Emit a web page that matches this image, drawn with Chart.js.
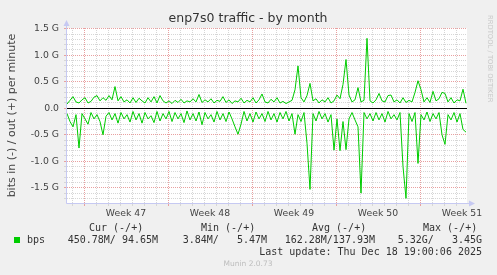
<!DOCTYPE html>
<html lang="en">
<head>
    <meta charset="UTF-8">
    <title>enp7s0 traffic - by month</title>
    <script src="https://cdn.jsdelivr.net/npm/chart.js"></script>
    <style>
        body { margin: 0; background: #f0f0f0; }
        canvas { display: block; }
    </style>
</head>
<body>

<canvas id="chart" width="497" height="275"></canvas>

<script>
    // one sample every 6 hours, values in Gbit per minute
    var stepHours = 6

    var outG = [
        0.08, 0.15, 0.22, 0.12, 0.10, 0.16, 0.20, 0.10, 0.13, 0.21, 0.24, 0.14, 0.20, 0.15, 0.24, 0.16, 0.41, 0.14, 0.22, 0.12,
        0.16, 0.10, 0.20, 0.11, 0.19, 0.14, 0.10, 0.20, 0.12, 0.22, 0.10, 0.24, 0.14, 0.10,
        0.14, 0.09, 0.15, 0.11, 0.17, 0.10, 0.14, 0.12, 0.18, 0.12, 0.26, 0.11, 0.16, 0.12, 0.18, 0.10, 0.15, 0.13, 0.22, 0.11,
        0.16, 0.09, 0.14, 0.12, 0.19, 0.10, 0.15, 0.12, 0.20, 0.10, 0.16, 0.27, 0.12, 0.10, 0.17, 0.12, 0.20, 0.10, 0.13,
        0.09, 0.12, 0.15, 0.35, 0.80, 0.20, 0.12, 0.24, 0.47, 0.14, 0.18, 0.10, 0.16, 0.12, 0.20, 0.10, 0.14, 0.25, 0.18, 0.45,
        0.92, 0.25, 0.12, 0.16, 0.39, 0.12, 0.15, 1.32, 0.14,
        0.10, 0.16, 0.28, 0.14, 0.12, 0.24, 0.25, 0.12, 0.16, 0.10, 0.20, 0.11, 0.15, 0.12, 0.30, 0.52, 0.35, 0.12, 0.20, 0.11,
        0.32, 0.14, 0.18, 0.30, 0.28, 0.12, 0.20, 0.10, 0.16, 0.14, 0.36, 0.095
    ]

    var inG = [
        -0.10, -0.25, -0.35, -0.12, -0.75, -0.10, -0.20, -0.30, -0.08, -0.20, -0.12, -0.25, -0.50, -0.15, -0.08, -0.22, -0.10,
        -0.28, -0.08, -0.20, -0.12, -0.26, -0.06, -0.22, -0.10, -0.28, -0.08, -0.20, -0.14, -0.27, -0.06, -0.24, -0.10, -0.20,
        -0.06, -0.25, -0.08, -0.20, -0.10, -0.27, -0.05, -0.22, -0.10, -0.24, -0.07, -0.31, -0.08, -0.20, -0.12, -0.26, -0.06,
        -0.22, -0.10, -0.25, -0.07, -0.20, -0.35, -0.49, -0.30, -0.06, -0.24, -0.10, -0.26, -0.07, -0.20, -0.10, -0.25, -0.06,
        -0.22, -0.10, -0.26, -0.08, -0.20,
        -0.06, -0.24, -0.10, -0.49, -0.12, -0.25, -0.08, -0.66, -1.53, -0.10, -0.24, -0.06, -0.20, -0.10, -0.26, -0.12, -0.79,
        -0.20, -0.80, -0.25, -0.78, -0.20, -0.08, -0.22, -0.35, -1.60, -0.08, -0.20, -0.10,
        -0.24, -0.08, -0.22, -0.10, -0.26, -0.06, -0.20, -0.12, -0.22, -0.08, -1.10, -1.70, -0.10, -0.25, -0.08, -1.04, -0.12,
        -0.22, -0.07, -0.25, -0.10, -0.20, -0.08, -0.50, -0.68, -0.12, -0.22, -0.08, -0.26, -0.10, -0.40, -0.45
    ]

    // x axis in hours from the left edge of the graph
    var xMax = 800
    var weekLines = [34, 202, 370, 538, 706]
    var weekLabelHours = [118, 286, 454, 622, 790]
    var weekLabels = ['Week 47', 'Week 48', 'Week 49', 'Week 50', 'Week 51']

    var yMin = -1.787
    var yMax = 1.515
    var yTickValues = [-1.5, -1.0, -0.5, 0, 0.5, 1.0, 1.5]
    var yTickLabels = ['-1.5 G', '-1.0 G', '-0.5 G', '0.0', '0.5 G', '1.0 G', '1.5 G']

    var legendHeaders = ['Cur (-/+)', 'Min (-/+)', 'Avg (-/+)', 'Max (-/+)']
    var legendValues = ['450.78M/ 94.65M', '3.84M/   5.47M', '162.28M/137.93M', '5.32G/   3.45G']

    var green = '#00cc00'
    var minorGrid = '#d6d6d6'
    var majorGrid = '#e8a0a0'
    var axisColor = '#c6c9f2'

    function toPoints(arr) {
        return arr.map((v, i) => ({x: i * stepHours, y: v}))
    }

    var muninPlugin = {
        id: 'munin',
        beforeDraw(chart) {
            var ctx = chart.ctx, a = chart.chartArea
            ctx.save()
            ctx.fillStyle = '#f0f0f0'
            ctx.fillRect(0, 0, chart.width, chart.height)
            ctx.fillStyle = '#ffffff'
            ctx.fillRect(a.left, a.top, a.right - a.left, a.bottom - a.top)
            ctx.restore()
        },
        beforeDatasetsDraw(chart) {
            var ctx = chart.ctx, a = chart.chartArea
            var y0 = Math.round(chart.scales.y.getPixelForValue(0)) + 0.5
            ctx.save()
            ctx.strokeStyle = '#000000'
            ctx.lineWidth = 1
            ctx.beginPath()
            ctx.moveTo(a.left, y0)
            ctx.lineTo(a.right, y0)
            ctx.stroke()
            ctx.restore()
        },
        afterDraw(chart) {
            var ctx = chart.ctx, a = chart.chartArea
            ctx.save()
            // axes with arrow heads
            ctx.strokeStyle = axisColor
            ctx.fillStyle = axisColor
            ctx.lineWidth = 1
            ctx.beginPath()
            ctx.moveTo(a.left - 0.5, a.bottom + 0.5)
            ctx.lineTo(a.left - 0.5, a.top - 4)
            ctx.moveTo(a.left - 0.5, a.bottom + 0.5)
            ctx.lineTo(a.right + 4, a.bottom + 0.5)
            ctx.stroke()
            ctx.beginPath()
            ctx.moveTo(a.left - 3.5, a.top - 2)
            ctx.lineTo(a.left - 0.5, a.top - 8)
            ctx.lineTo(a.left + 2.5, a.top - 2)
            ctx.fill()
            ctx.beginPath()
            ctx.moveTo(a.right + 2, a.bottom - 2.5)
            ctx.lineTo(a.right + 8, a.bottom + 0.5)
            ctx.lineTo(a.right + 2, a.bottom + 3.5)
            ctx.fill()

            // title
            ctx.fillStyle = '#333333'
            ctx.font = '12.5px "DejaVu Sans"'
            ctx.textAlign = 'center'
            ctx.textBaseline = 'middle'
            ctx.fillText('enp7s0 traffic - by month', 248, 19)

            // vertical axis title
            ctx.save()
            ctx.translate(12, (a.top + a.bottom) / 2)
            ctx.rotate(-Math.PI / 2)
            ctx.font = '11px "DejaVu Sans"'
            ctx.fillStyle = '#444444'
            ctx.fillText('bits in (-) / out (+) per minute', 0, 0)
            ctx.restore()

            // rrdtool credit
            ctx.save()
            ctx.translate(490, 15)
            ctx.rotate(Math.PI / 2)
            ctx.font = '6.8px "DejaVu Sans"'
            ctx.fillStyle = '#c8c8c8'
            ctx.textAlign = 'left'
            ctx.fillText('RRDTOOL / TOBI OETIKER', 0, 0)
            ctx.restore()

            // legend block
            ctx.font = '10px "DejaVu Sans Mono"'
            ctx.fillStyle = '#333333'
            ctx.textAlign = 'left'
            var headerX = [89, 201, 312, 423]
            var valueRight = [158, 267, 375, 482]
            legendHeaders.forEach((h, i) => ctx.fillText(h, headerX[i], 228))
            ctx.fillStyle = green
            ctx.fillRect(14, 237, 6, 6)
            ctx.fillStyle = '#333333'
            ctx.fillText('bps', 27, 240.5)
            ctx.textAlign = 'right'
            legendValues.forEach((v, i) => ctx.fillText(v, valueRight[i], 240.5))
            ctx.fillText('Last update: Thu Dec 18 19:00:06 2025', 482, 252.5)

            ctx.textAlign = 'center'
            ctx.font = '7.5px "DejaVu Sans"'
            ctx.fillStyle = '#bdbdbd'
            ctx.fillText('Munin 2.0.73', 248, 264)
            ctx.restore()
        }
    }

    var canvas = document.getElementById("chart")
    var traffic = new Chart(canvas, {
        type: 'line',
        data: {
            datasets: [{
                label: 'out',
                data: toPoints(outG),
                borderColor: green,
                borderWidth: 1,
                pointRadius: 0,
                tension: 0,
                fill: false
            }, {
                label: 'in',
                data: toPoints(inG),
                borderColor: green,
                borderWidth: 1,
                pointRadius: 0,
                tension: 0,
                fill: false
            }]
        },
        options: {
            responsive: false,
            animation: false,
            layout: {padding: {left: 0, top: 28, right: 30, bottom: 52}},
            plugins: {legend: {display: false}, tooltip: {enabled: false}},
            scales: {
                x: {
                    type: 'linear',
                    min: 0,
                    max: xMax,
                    afterBuildTicks: function (scale) {
                        var t = []
                        for (var h = weekLines[0] - 24; h <= xMax; h += 24) t.push({value: h})
                        scale.ticks = t
                    },
                    afterFit: function (scale) { scale.height = 0 },
                    ticks: {display: false},
                    grid: {
                        color: c => weekLines.includes(c.tick.value) ? majorGrid : minorGrid,
                        drawTicks: true,
                        tickLength: 3
                    },
                    border: {display: false, dash: [1, 1]}
                },
                x2: {
                    type: 'linear',
                    position: 'bottom',
                    min: 0,
                    max: xMax,
                    afterBuildTicks: function (scale) {
                        scale.ticks = weekLabelHours.map(v => ({value: v}))
                    },
                    afterFit: function (scale) { scale.height = 20 },
                    grid: {display: false, drawTicks: false},
                    border: {display: false},
                    ticks: {
                        autoSkip: false,
                        maxRotation: 0,
                        padding: 5,
                        color: '#444444',
                        font: {family: 'DejaVu Sans', size: 9.3},
                        callback: function (v) { return weekLabels[weekLabelHours.indexOf(v)] }
                    }
                },
                y: {
                    type: 'linear',
                    min: yMin,
                    max: yMax,
                    afterBuildTicks: function (scale) {
                        var t = []
                        for (var k = -17; k <= 15; k++) t.push({value: k / 10})
                        scale.ticks = t
                    },
                    afterFit: function (scale) { scale.width = 67 },
                    grid: {
                        color: c => (Math.abs(c.tick.value * 2 - Math.round(c.tick.value * 2)) < 1e-6) ? majorGrid : minorGrid,
                        drawTicks: true,
                        tickLength: 3
                    },
                    border: {display: false, dash: [1, 1]},
                    ticks: {
                        autoSkip: false,
                        padding: 5,
                        color: '#444444',
                        font: {family: 'DejaVu Sans', size: 9.3},
                        callback: function (v) {
                            var i = yTickValues.findIndex(t => Math.abs(t - v) < 1e-6)
                            return i < 0 ? '' : yTickLabels[i]
                        }
                    }
                }
            }
        },
        plugins: [muninPlugin]
    })
</script>

</body>
</html>
